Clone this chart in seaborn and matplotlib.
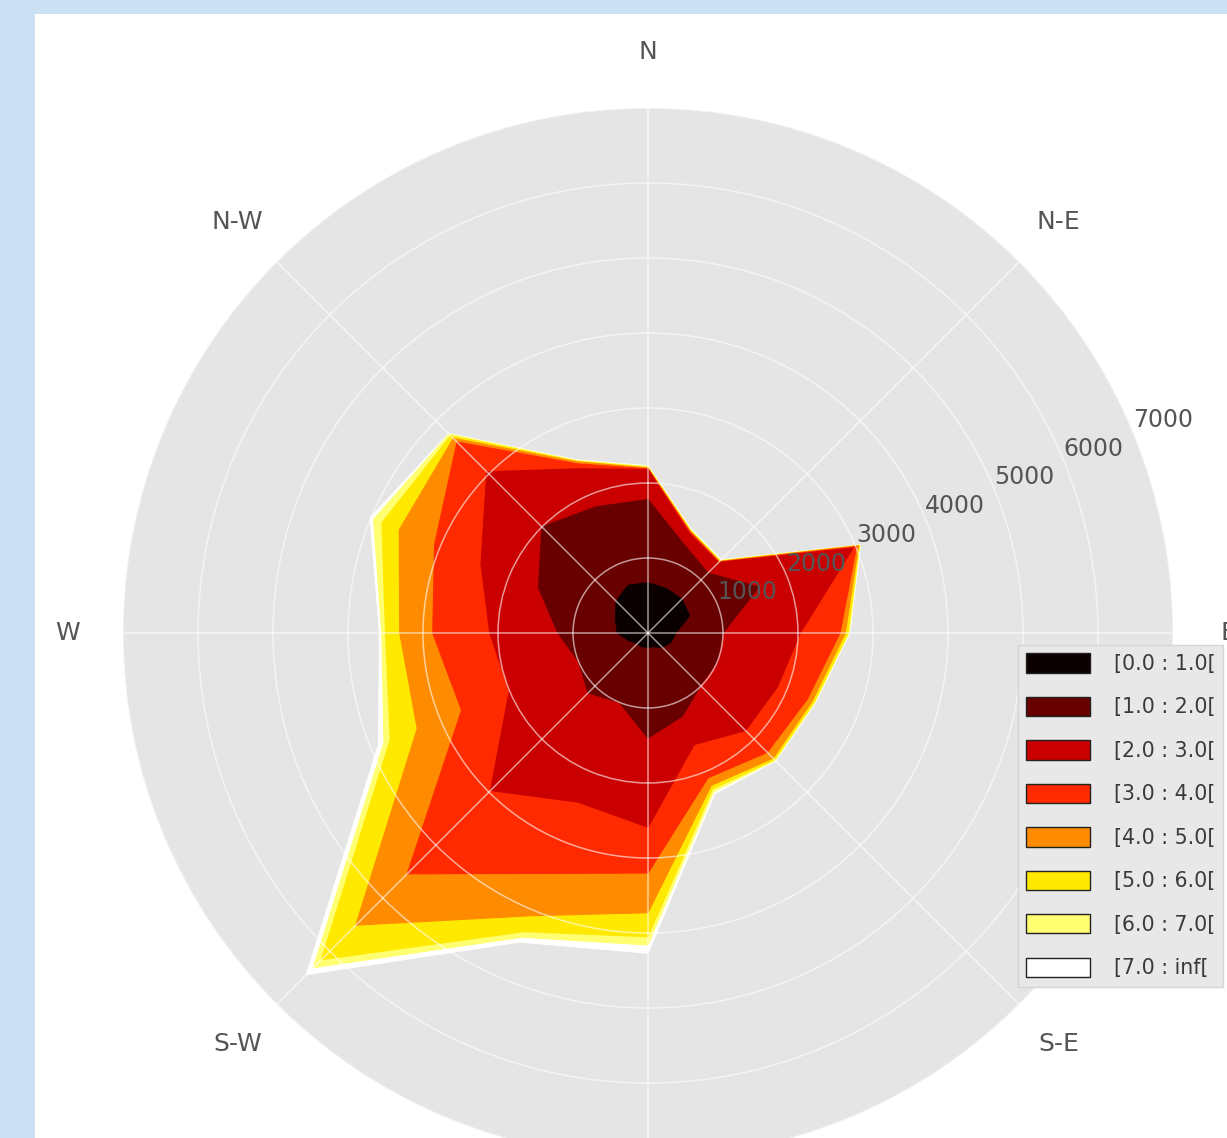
import numpy as np
import matplotlib
matplotlib.use("Agg")
import matplotlib.pyplot as plt
from matplotlib.patches import Rectangle
import seaborn as sns

# 16 compass sectors, clockwise from north
directions = ["N", "NNE", "NE", "ENE", "E", "ESE", "SE", "SSE",
              "S", "SSW", "SW", "WSW", "W", "WNW", "NW", "NNW"]
direction_deg = [0.0, 22.5, 45.0, 67.5, 90.0, 112.5, 135.0, 157.5,
                 180.0, 202.5, 225.0, 247.5, 270.0, 292.5, 315.0, 337.5]

# wind speed classes (lower edges) and counts per sector for each class
speed_edges = [0.0, 1.0, 2.0, 3.0, 4.0, 5.0, 6.0, 7.0, np.inf]
counts_0_1 = [670, 640, 640, 600, 370, 330, 270, 200, 190, 200, 200, 270, 410, 470, 600, 690]
counts_1_2 = [1110, 630, 490, 1000, 630, 670, 720, 1000, 1210, 800, 930, 730, 790, 1110, 1400, 1130]
counts_2_3 = [400, 170, 200, 1360, 1030, 870, 850, 410, 1190, 1440, 1840, 1000, 910, 830, 1040, 550]
counts_3_4 = [10, 20, 10, 50, 530, 430, 410, 480, 610, 1030, 1570, 690, 760, 670, 560, 70]
counts_4_5 = [10, 10, 10, 30, 70, 70, 110, 110, 530, 610, 970, 640, 440, 510, 70, 30]
counts_5_6 = [10, 10, 10, 10, 40, 30, 30, 50, 320, 230, 650, 390, 190, 250, 50, 10]
counts_6_7 = [10, 10, 10, 10, 10, 10, 10, 40, 110, 80, 150, 90, 50, 120, 30, 10]
counts_7_inf = [10, 10, 10, 10, 10, 10, 10, 30, 110, 70, 130, 80, 30, 50, 10, 10]

compass_labels = ["N", "N-E", "E", "S-E", "S", "S-W", "W", "N-W"]
compass_deg = [0, 45, 90, 135, 180, 225, 270, 315]
radial_ticks = [1000, 2000, 3000, 4000, 5000, 6000, 7000]

sns.set_theme(style="darkgrid", rc={
    "axes.facecolor": "#E5E5E5",
    "grid.color": "white",
})
plt.rcParams["font.family"] = ["DejaVu Sans"]

W, H = 1227, 1138
fig = plt.figure(figsize=(W / 100, H / 100), dpi=100, facecolor="white")

# page frame around the plot
frame_col = "#cce0f3"
fig.patches.append(Rectangle((0, 0), 35 / W, 1, transform=fig.transFigure,
                             facecolor=frame_col, edgecolor="none", zorder=-10))
fig.patches.append(Rectangle((0, 1 - 14 / H), 1, 14 / H, transform=fig.transFigure,
                             facecolor=frame_col, edgecolor="none", zorder=-10))

cx, cy, R = 648, 633, 525
ax = fig.add_axes([(cx - R) / W, (H - (cy + R)) / H, 2 * R / W, 2 * R / H],
                  projection="polar")
ax.set_theta_zero_location("N")
ax.set_theta_direction(-1)
ax.set_facecolor("#E5E5E5")

cmap = sns.color_palette("hot", as_cmap=True)
layers = [counts_0_1, counts_1_2, counts_2_3, counts_3_4,
          counts_4_5, counts_5_6, counts_6_7, counts_7_inf]
n = len(layers)
colors = [cmap(v) for v in np.linspace(0.0, 1.0, n)]

# stacked (cumulative) filled rose, outer classes drawn first
theta = np.deg2rad(direction_deg + [direction_deg[0]])
offset = np.zeros(len(directions))
labels = []
for i, vals in enumerate(layers):
    cum = offset + np.asarray(vals, dtype=float)
    offset = cum
    r = np.append(cum, cum[0])
    ax.fill(theta, r, facecolor=colors[i], edgecolor=colors[i], linewidth=0.8,
            zorder=1.0 + 0.1 * (n - i))
    lo, hi = speed_edges[i], speed_edges[i + 1]
    labels.append(f"[{lo:.1f} : {'inf' if np.isinf(hi) else f'{hi:.1f}'}[")

ax.set_ylim(0, 7000)
ax.set_rgrids(radial_ticks, labels=[str(t) for t in radial_ticks], angle=67.5,
              fontsize=17, color="#555555")
ax.set_thetagrids(compass_deg, labels=compass_labels, fontsize=18, color="#555555")
ax.tick_params(axis="x", pad=27)
ax.set_axisbelow(False)
ax.grid(True, color="white", linewidth=1.1, alpha=0.6)
ax.spines["polar"].set_visible(False)

handles = [Rectangle((0, 0), 1, 1, facecolor=c, edgecolor="#222222", linewidth=1.0)
           for c in colors]
leg = fig.legend(handles, labels, loc="upper left",
                 bbox_to_anchor=(1018 / W, 1 - 645 / H), bbox_transform=fig.transFigure,
                 borderaxespad=0.0,
                 fontsize=14.8, handlelength=3.1, handleheight=1.07, labelspacing=1.11,
                 handletextpad=1.15, borderpad=0.4, frameon=True, fancybox=False,
                 facecolor="#E8E8E8", edgecolor="#d5d5d5", framealpha=1.0)
for t in leg.get_texts():
    t.set_color("#3a3a3a")

fig.savefig("out.png", dpi=100, facecolor="white")
